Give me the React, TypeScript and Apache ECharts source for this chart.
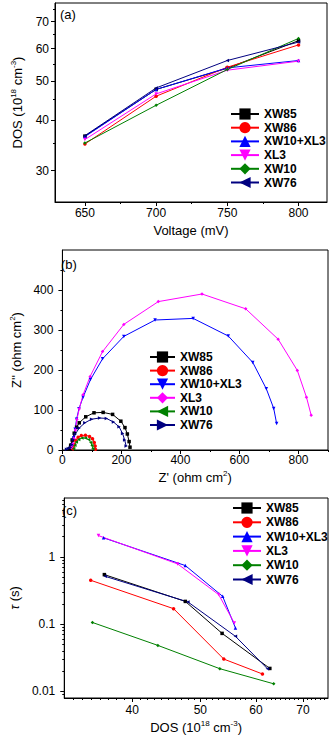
import React, { useEffect, useRef } from 'react';
import * as echarts from 'echarts';

const FONT = '"Liberation Sans", Arial, Helvetica, sans-serif';

const seriesNames = ['XW85', 'XW86', 'XW10+XL3', 'XL3', 'XW10', 'XW76'];
const seriesColors = ['#000000', '#ff0000', '#0000ff', '#ff00ff', '#008000', '#000080'];

// Panel (a): DOS vs voltage
const voltages = [650, 700, 750, 800];
const dosXW85 = [36.5, 47.6, 53.7, 62.8];
const dosXW86 = [34.9, 45.8, 54.0, 61.3];
const dosXW10XL3 = [36.4, 47.6, 53.8, 56.1];
const dosXL3 = [35.8, 46.4, 53.1, 55.9];
const dosXW10 = [35.1, 43.5, 53.3, 63.6];
const dosXW76 = [36.6, 48.0, 56.1, 62.3];

// Panel (c): electron lifetime vs DOS
const tauXW85 = [0.545, 0.218, 0.073, 0.022];
const tauXW86 = [0.449, 0.17, 0.0303, 0.0182];
const tauXW10XL3 = [1.92, 0.743, 0.259, 0.088];
const tauXL3 = [2.07, 0.787, 0.275, 0.104];
const tauXW10 = [0.106, 0.0484, 0.0218, 0.013];
const tauXW76 = [0.514, 0.214, 0.066, 0.0218];

// Panel (b): Nyquist plots [Z', Z'']
const eisXW85 = [[25, 3], [28, 12], [33, 25], [40, 42], [48, 57], [57, 68], [79, 83], [107, 93], [138, 94], [170, 89], [198, 72], [212, 56], [220, 40], [226, 21], [229, 7]];
const eisXW86 = [[36, 3], [40, 13], [45, 24], [53, 32], [64, 36], [78, 37], [92, 34], [102, 28], [108, 19], [111, 10], [112, 2]];
const eisXW10XL3 = [[32, 10], [38, 30], [43, 52], [48, 77], [56, 103], [70, 132], [95, 176], [136, 228], [208, 284], [314, 325], [443, 329], [562, 285], [645, 219], [691, 153], [716, 104], [726, 66]];
const eisXL3 = [[30, 6], [35, 15], [39, 29], [44, 50], [49, 76], [57, 103], [70, 138], [94, 184], [136, 246], [208, 314], [325, 371], [473, 390], [621, 353], [731, 277], [796, 199], [827, 132], [843, 87]];
const eisXW10 = [[38, 3], [42, 12], [47, 20], [55, 26], [66, 30], [78, 30], [89, 26], [96, 19], [100, 11], [103, 3]];
const eisXW76 = [[14, 2], [20, 4], [27, 6], [32, 14], [37, 26], [44, 40], [57, 55], [76, 68], [99, 77], [126, 80], [149, 79], [173, 70], [192, 58], [204, 41], [211, 25], [216, 10]];

// Tick values
const voltageTicks = [650, 700, 750, 800];
const voltageMinor = [675, 725, 775];
const dosTicksA = [30, 40, 50, 60, 70];
const dosMinorA = [35, 45, 55, 65, 75];
const zReTicks = [0, 200, 400, 600, 800];
const zReMinor = [100, 300, 500, 700, 900];
const zImTicks = [0, 100, 200, 300, 400];
const zImMinor = [50, 150, 250, 350, 450];
const dosTicksC = [40, 50, 60, 70];
const dosMinorC = [33, 34, 35, 36, 37, 38, 39, 41, 42, 43, 44, 45, 46, 47, 48, 49, 51, 52, 53, 54, 55, 56, 57, 58, 59, 61, 62, 63, 64, 65, 66, 67, 68, 69, 71, 72, 73, 74, 75];
const tauTicks = [0.01, 0.1, 1];
const tauMinor = [0.009, 0.02, 0.03, 0.04, 0.05, 0.06, 0.07, 0.08, 0.09, 0.2, 0.3, 0.4, 0.5, 0.6, 0.7, 0.8, 0.9, 2, 3, 4, 5, 6, 7];

const DOWN = 'path://M0,0L10,0L5,9Z';
const LEFT = 'path://M9,0L9,10L0,5Z';
const RIGHT = 'path://M0,0L0,10L9,5Z';
const symbolsAC = ['rect', 'circle', 'triangle', DOWN, 'diamond', LEFT];
const symbolsB = ['rect', 'circle', DOWN, 'diamond', LEFT, RIGHT];

const dosAll = [dosXW85, dosXW86, dosXW10XL3, dosXL3, dosXW10, dosXW76];
const tauAll = [tauXW85, tauXW86, tauXW10XL3, tauXL3, tauXW10, tauXW76];
const eisAll = [eisXW85, eisXW86, eisXW10XL3, eisXL3, eisXW10, eisXW76];

const txt = { color: '#000', fontFamily: FONT };

function mainAxis(gridIndex: number, type: string, position: string, min: number, max: number, ticks: number[], margin: number, extra: any) {
  return {
    gridIndex, type, position, min, max,
    splitLine: { show: false },
    axisLine: { show: true, onZero: false, lineStyle: { color: '#000', width: 1 } },
    axisTick: { show: true, customValues: ticks, length: 4, lineStyle: { color: '#000', width: 1 } },
    axisLabel: { show: true, customValues: ticks, margin, fontSize: 12, ...txt, formatter: (v: number) => String(v) },
    ...extra,
  };
}

function minorAxis(gridIndex: number, type: string, position: string, min: number, max: number, ticks: number[]) {
  return {
    gridIndex, type, position, min, max,
    splitLine: { show: false },
    axisLine: { show: false, onZero: false },
    axisTick: { show: true, customValues: ticks, length: 2, lineStyle: { color: '#000', width: 1 } },
    axisLabel: { show: false },
  };
}

function richName(fs: number) {
  return {
    ...txt,
    fontSize: fs,
    rich: {
      n: { ...txt, fontSize: fs, lineHeight: 16 },
      s: { ...txt, fontSize: 8, lineHeight: 16, verticalAlign: 'top' },
      i: { ...txt, fontSize: fs, lineHeight: 16, fontStyle: 'italic' },
    },
  };
}

export default function App() {
  const ref = useRef<HTMLDivElement>(null);
  useEffect(() => {
    if (!ref.current) return;
    const chart = echarts.init(ref.current, null, { renderer: 'svg' });

    const series: any[] = [];
    seriesNames.forEach((name, k) => {
      series.push({
        name: name + '@a', type: 'line', xAxisIndex: 0, yAxisIndex: 0,
        data: voltages.map((v, i) => [v, dosAll[k][i]]),
        symbol: symbolsAC[k], symbolSize: 3.5, color: seriesColors[k],
        lineStyle: { width: 1, color: seriesColors[k] }, itemStyle: { color: seriesColors[k] },
      });
    });
    seriesNames.forEach((name, k) => {
      series.push({
        name: name + '@b', type: 'line', xAxisIndex: 2, yAxisIndex: 2,
        data: eisAll[k],
        symbol: symbolsB[k], symbolSize: 3.5, color: seriesColors[k],
        lineStyle: { width: 1, color: seriesColors[k] }, itemStyle: { color: seriesColors[k] },
      });
    });
    seriesNames.forEach((name, k) => {
      series.push({
        name: name + '@c', type: 'line', xAxisIndex: 4, yAxisIndex: 4,
        data: dosAll[k].map((d, i) => [d, tauAll[k][i]]),
        symbol: symbolsAC[k], symbolSize: 3.5, color: seriesColors[k],
        lineStyle: { width: 1, color: seriesColors[k] }, itemStyle: { color: seriesColors[k] },
      });
    });

    const legendCommon = {
      orient: 'vertical', padding: 0, itemHeight: 14,
      textStyle: { ...txt, fontSize: 12, fontWeight: 'bold' },
      formatter: (n: string) => n.split('@')[0],
      lineStyle: { width: 2 },
      selectedMode: false,
    };

    chart.setOption({
      animation: false,
      backgroundColor: '#fff',
      grid: [
        { left: 55, top: 3, width: 272, height: 199, show: true, borderColor: '#000', borderWidth: 1 },
        { left: 56, top: 250, width: 272, height: 200, show: true, borderColor: '#000', borderWidth: 1 },
        { left: 57, top: 498, width: 271, height: 200, show: true, borderColor: '#000', borderWidth: 1 },
      ],
      xAxis: [
        mainAxis(0, 'value', 'bottom', 629, 820, voltageTicks, 5, {
          name: 'Voltage (mV)', nameLocation: 'middle', nameGap: 22, nameTextStyle: { ...txt, fontSize: 13 },
        }),
        minorAxis(0, 'value', 'bottom', 629, 820, voltageMinor),
        mainAxis(1, 'value', 'bottom', 0, 900, zReTicks, 4, {
          name: "{n|Z' (ohm cm}{s|2}{n|)}", nameLocation: 'middle', nameGap: 19, nameTextStyle: richName(13),
        }),
        minorAxis(1, 'value', 'bottom', 0, 900, zReMinor),
        mainAxis(2, 'log', 'bottom', 32, 76, dosTicksC, 6, {
          logBase: 10,
          name: '{n|DOS (10}{s|18}{n| cm}{s|-3}{n|)}', nameLocation: 'middle', nameGap: 21, nameTextStyle: richName(13),
        }),
        minorAxis(2, 'log', 'bottom', 32, 76, dosMinorC),
      ],
      yAxis: [
        mainAxis(0, 'log', 'left', 25.1, 77.8, dosTicksA, 6, {
          logBase: 10,
          name: '{n|DOS (10}{s|18}{n| cm}{s|-3}{n|)}', nameLocation: 'middle', nameGap: 30, nameTextStyle: richName(13),
        }),
        minorAxis(0, 'log', 'left', 25.1, 77.8, dosMinorA),
        mainAxis(1, 'value', 'left', 0, 500, zImTicks, 9, {
          name: "{n|Z'' (ohm cm}{s|2}{n|)}", nameLocation: 'middle', nameGap: 33, nameTextStyle: richName(13),
        }),
        minorAxis(1, 'value', 'left', 0, 500, zImMinor),
        mainAxis(2, 'log', 'left', 0.008, 7.5, tauTicks, 9, {
          logBase: 10,
          name: '{i|τ}{n| (s)}', nameLocation: 'middle', nameGap: 36, nameTextStyle: richName(13),
        }),
        minorAxis(2, 'log', 'left', 0.008, 7.5, tauMinor),
      ],
      legend: [
        { ...legendCommon, left: 230, top: 108, itemWidth: 28, itemGap: 1.7, data: seriesNames.map((n) => n + '@a') },
        { ...legendCommon, left: 149, top: 351, itemWidth: 25, itemGap: 1.6, data: seriesNames.map((n) => n + '@b') },
        { ...legendCommon, left: 232, top: 502, itemWidth: 28, itemGap: 2.3, data: seriesNames.map((n) => n + '@c') },
      ],
      graphic: [
        { type: 'text', left: 60, top: 8, style: { text: '(a)', fontSize: 13, fill: '#000', fontFamily: FONT } },
        { type: 'text', left: 61, top: 258, style: { text: '(b)', fontSize: 13, fill: '#000', fontFamily: FONT } },
        { type: 'text', left: 62, top: 504, style: { text: '(c)', fontSize: 13, fill: '#000', fontFamily: FONT } },
      ],
      series,
    });
    return () => chart.dispose();
  }, []);
  return <div ref={ref} style={{ position: 'absolute', left: 0, top: 0, width: 331, height: 740 }} />;
}
